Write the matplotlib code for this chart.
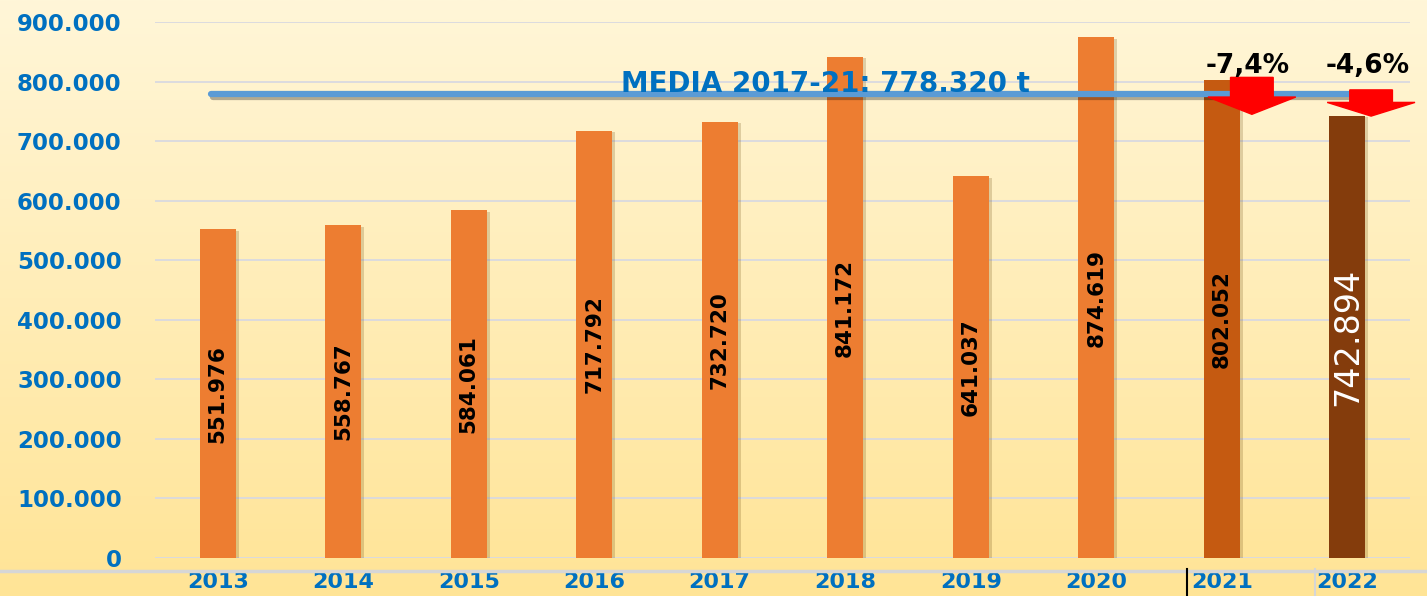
import numpy as np
import matplotlib
matplotlib.use("Agg")
import matplotlib.pyplot as plt
import matplotlib.patheffects as pe
from matplotlib.patches import Polygon
from matplotlib.lines import Line2D

years = ['2013', '2014', '2015', '2016', '2017', '2018', '2019', '2020', '2021', '2022']
tonnes = [551976, 558767, 584061, 717792, 732720, 841172, 641037, 874619, 802052, 742894]
labels = ['551.976', '558.767', '584.061', '717.792', '732.720', '841.172',
          '641.037', '874.619', '802.052', '742.894']
media = 778320
media_text = 'MEDIA 2017-21: 778.320 t'
change_years = ['2021', '2022']
change_labels = ['-7,4%', '-4,6%']
yticks = [0, 100000, 200000, 300000, 400000, 500000, 600000, 700000, 800000, 900000]
ytick_labels = ['0', '100.000', '200.000', '300.000', '400.000', '500.000',
                '600.000', '700.000', '800.000', '900.000']

blue = '#0070C0'
bar_colors = ['#ED7D31'] * 8 + ['#C55A11', '#843C0C']

# arrow shapes: x offset from bar, top / head start / tip levels
arrow_dx = [0.24, 0.19]
arrow_levels = [(807000, 774000, 745000), (786000, 765000, 742000)]

fig = plt.figure(figsize=(14.27, 5.96), dpi=100)

# background gradient
bg = fig.add_axes([0, 0, 1, 1], zorder=-10)
grad = np.linspace(0, 1, 256).reshape(-1, 1)
top = np.array([255, 246, 216]) / 255
bot = np.array([255, 228, 150]) / 255
img = top[None, None, :] * (1 - grad[:, :, None]) + bot[None, None, :] * grad[:, :, None]
bg.imshow(img, aspect='auto', extent=[0, 1, 0, 1])
bg.axis('off')

ax = fig.add_axes([155 / 1427, 1 - 558 / 596, (1410 - 155) / 1427, (558 - 22) / 596])
ax.patch.set_alpha(0)

x = np.arange(len(years))
bars = ax.bar(x, tonnes, width=0.29, color=bar_colors, zorder=3)
for b in bars:
    b.set_path_effects([pe.SimplePatchShadow(offset=(2, -1), alpha=0.22, shadow_rgbFace='#6a4a10'),
                        pe.Normal()])

for i, (v, lab) in enumerate(zip(tonnes, labels)):
    if years[i] == '2022':
        ax.text(i, v / 2, lab, rotation=90, ha='center', va='center',
                fontsize=24, color='white', zorder=5)
    else:
        ax.text(i, v / 2, lab, rotation=90, ha='center', va='center',
                fontsize=15.5, fontweight='bold', color='black', zorder=5)

ax.set_ylim(0, 900000)
ax.set_xlim(-0.5, len(years) - 0.5)
ax.set_yticks(yticks)
ax.set_yticklabels(ytick_labels)
ax.set_xticks(x)
ax.set_xticklabels(years)
ax.tick_params(axis='y', length=0, pad=24, labelsize=16.5, labelcolor=blue)
ax.tick_params(axis='x', length=0, pad=10, labelsize=16, labelcolor=blue)
for t in ax.get_xticklabels() + ax.get_yticklabels():
    t.set_fontweight('bold')
ax.grid(axis='y', color='#D9D9E0', linewidth=1.3, zorder=0)
for s in ax.spines.values():
    s.set_visible(False)

# average line
ax.plot([-0.05, 9.3], [media, media], color='#5B9BD5', linewidth=4.5,
        solid_capstyle='round', zorder=6,
        path_effects=[pe.SimpleLineShadow(offset=(1, -2), alpha=0.3), pe.Normal()])
ax.text(4.84, media + 18000, media_text, ha='center', va='center', fontsize=20,
        fontweight='bold', color=blue, zorder=7)

# red down arrows with change labels
for yr, txt, dx, (ytop, yhead, ytip) in zip(change_years, change_labels, arrow_dx, arrow_levels):
    i = years.index(yr)
    cx = i + dx
    sw, hw = 0.17, 0.35
    poly = [(cx - sw, ytop), (cx + sw, ytop), (cx + sw, yhead), (cx + hw, yhead),
            (cx, ytip), (cx - hw, yhead), (cx - sw, yhead)]
    ax.add_patch(Polygon(poly, closed=True, color='#FF0000', zorder=8, clip_on=False))
    ax.text(cx - 0.03, 826000, txt, ha='center', va='center', fontsize=19,
            fontweight='bold', color='black', zorder=9, clip_on=False)

# bottom rule and marker
fig.add_artist(Line2D([0, 1], [1 - 571 / 596, 1 - 571 / 596], color='#D6D6D6', linewidth=2.5))
fig.add_artist(Line2D([1187 / 1427, 1187 / 1427], [0, 1 - 569 / 596], color='black', linewidth=1.5))
fig.add_artist(Line2D([1315 / 1427, 1315 / 1427], [0, 1 - 569 / 596], color='#D6D6D6', linewidth=1.5))

fig.savefig('out.png', dpi=100)
